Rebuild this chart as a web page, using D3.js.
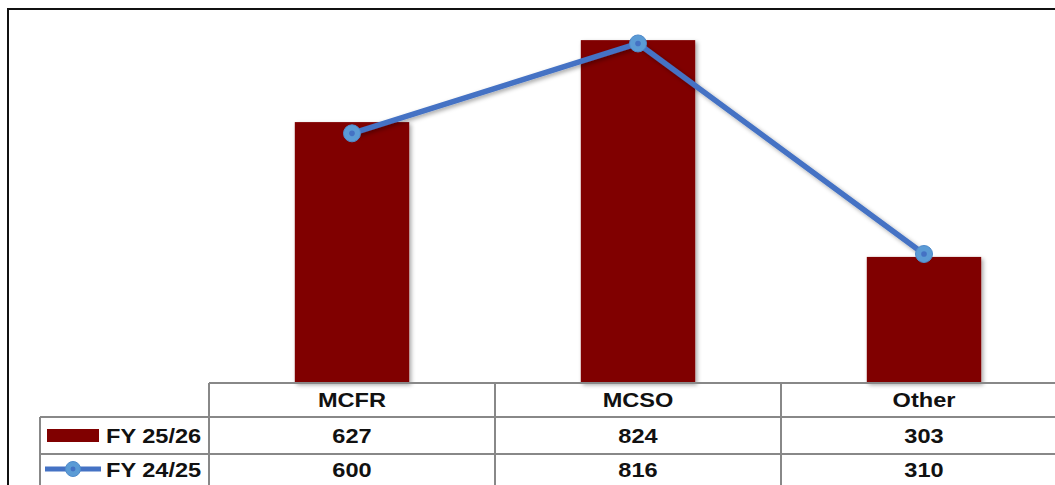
<!DOCTYPE html>
<html>
<head>
  <meta charset="utf-8">
  <title>FY comparison</title>
  <style>
    body { margin: 0; background: #fff; }
    svg { display: block; font-family: "Liberation Sans", Arial, sans-serif; }
  </style>
</head>
<body>

  <script src="https://d3js.org/d3.v7.min.js" charset="utf-8"></script>
  <script type="text/javascript">

  var categories = ['MCFR', 'MCSO', 'Other'],
      fy2526     = [627, 824, 303],
      fy2425     = [600, 816, 310],
      seriesNames = ['FY 25/26', 'FY 24/25'],
      yMax = 900;

  var width = 1055,
      height = 485,
      plotLeft = 209,
      plotRight = 1067,
      plotBottom = 383,
      plotTop = 8.5,
      rowLines = [383, 417, 454, 491],
      legendLeft = 40,

      barColor  = '#800000',
      lineColor = '#4472C4',
      dotColor  = '#5B9BD5',
      gridColor = '#888888',

      svg = d3.select('body')
              .append('svg')
              .attr('width', width)
              .attr('height', height);

  var x = d3.scaleBand()
            .domain(categories)
            .range([plotLeft, plotRight])
            .padding(0);

  var y = d3.scaleLinear()
            .domain([0, yMax])
            .range([plotBottom, plotTop]);

  var barW = x.bandwidth() * 0.4;

  // soft shadow under bars, like the office chart
  var defs = svg.append('defs');
  var f = defs.append('filter').attr('id', 'shadow')
              .attr('x', '-10%').attr('y', '-10%')
              .attr('width', '130%').attr('height', '130%');
  f.append('feDropShadow')
   .attr('dx', 2).attr('dy', 2).attr('stdDeviation', 2)
   .attr('flood-color', '#000').attr('flood-opacity', 0.35);

  // outer frame
  svg.append('rect')
     .attr('x', 8).attr('y', 9)
     .attr('width', 1100).attr('height', 600)
     .attr('fill', 'none')
     .attr('stroke', '#111')
     .attr('stroke-width', 2);

  // bars
  svg.selectAll('rect.bar')
     .data(categories)
     .enter()
     .append('rect')
     .attr('class', 'bar')
     .attr('x', function(d){ return x(d) + (x.bandwidth() - barW) / 2 })
     .attr('y', function(d, i){ return y(fy2526[i]) })
     .attr('width', barW)
     .attr('height', function(d, i){ return plotBottom - y(fy2526[i]) })
     .attr('fill', barColor)
     .attr('filter', 'url(#shadow)');

  // line series
  var line = d3.line()
               .x(function(d, i){ return x(categories[i]) + x.bandwidth() / 2 })
               .y(function(d){ return y(d) });

  svg.append('path')
     .datum(fy2425)
     .attr('d', line)
     .attr('fill', 'none')
     .attr('stroke', lineColor)
     .attr('stroke-width', 5.5)
     .attr('stroke-linejoin', 'round')
     .attr('filter', 'url(#shadow)');

  function marker(g, cx, cy, r){
    g.append('circle')
     .attr('cx', cx).attr('cy', cy).attr('r', r)
     .attr('fill', dotColor)
     .attr('stroke', '#4F8ACB')
     .attr('stroke-width', 1);
    g.append('circle')
     .attr('cx', cx).attr('cy', cy).attr('r', r * 0.33)
     .attr('fill', lineColor);
  }

  var markers = svg.append('g');
  fy2425.forEach(function(v, i){
    marker(markers, x(categories[i]) + x.bandwidth() / 2, y(v), 8.5);
  });

  // data table
  var table = svg.append('g')
                 .attr('stroke', gridColor)
                 .attr('stroke-width', 2);

  // header row top (only over the plot columns)
  table.append('line')
       .attr('x1', plotLeft).attr('x2', plotRight)
       .attr('y1', rowLines[0]).attr('y2', rowLines[0]);

  // other row lines span legend column too
  rowLines.slice(1).forEach(function(ry){
    table.append('line')
         .attr('x1', legendLeft).attr('x2', plotRight)
         .attr('y1', ry).attr('y2', ry);
  });

  // column dividers
  categories.forEach(function(c){
    table.append('line')
         .attr('x1', x(c)).attr('x2', x(c))
         .attr('y1', rowLines[0]).attr('y2', rowLines[3]);
  });
  table.append('line')
       .attr('x1', legendLeft).attr('x2', legendLeft)
       .attr('y1', rowLines[1]).attr('y2', rowLines[3]);

  function cellText(tx, ty, txt, anchor){
    svg.append('text')
       .attr('transform', 'translate(' + tx + ',' + ty + ') scale(1.15,1)')
       .attr('text-anchor', anchor || 'middle')
       .attr('font-size', 20.5)
       .attr('font-weight', 'bold')
       .attr('fill', '#111')
       .text(txt);
  }

  var baselines = [407, 443, 477];

  categories.forEach(function(c, i){
    var cx = x(c) + x.bandwidth() / 2;
    cellText(cx, baselines[0], c);
    cellText(cx, baselines[1], fy2526[i]);
    cellText(cx, baselines[2], fy2425[i]);
  });

  // legend keys
  svg.append('rect')
     .attr('x', 47).attr('y', 429)
     .attr('width', 52).attr('height', 13)
     .attr('fill', barColor);

  svg.append('line')
     .attr('x1', 45).attr('x2', 101)
     .attr('y1', 469).attr('y2', 469)
     .attr('stroke', lineColor)
     .attr('stroke-width', 5);
  marker(svg, 73, 469, 7.5);

  cellText(106, baselines[1], seriesNames[0], 'start');
  cellText(106, baselines[2], seriesNames[1], 'start');

  </script>
</body>
</html>
